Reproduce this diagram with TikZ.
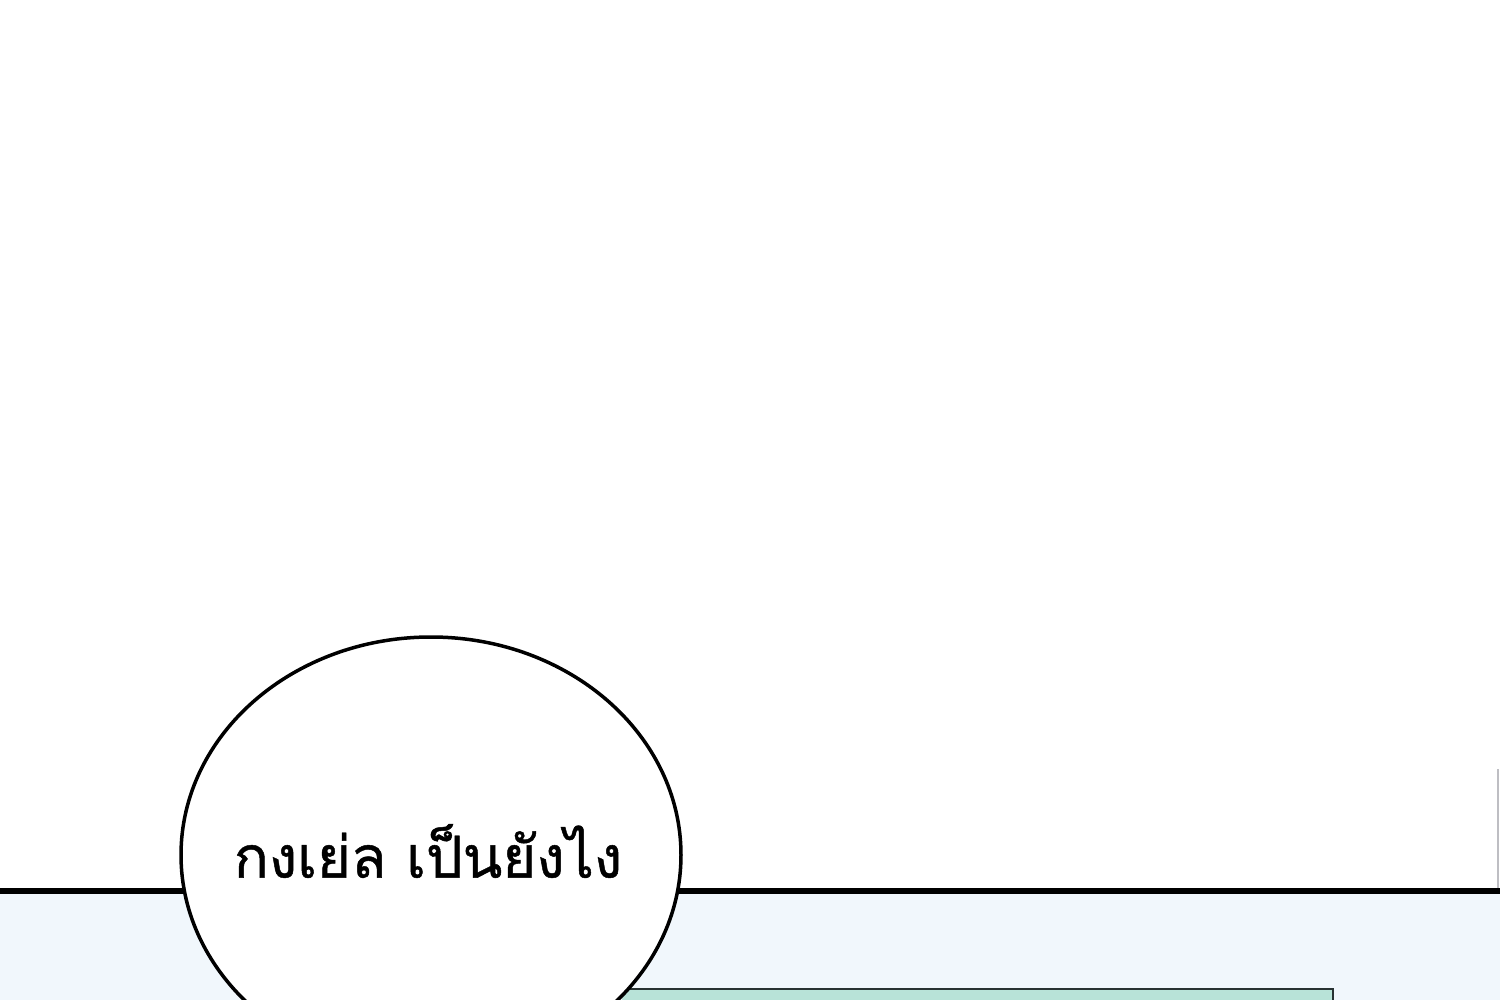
\documentclass[tikz,border=0pt]{standalone}
\usepackage{fontspec}
\usetikzlibrary{shapes.geometric}
\newfontfamily\thaifont[Script=Thai,FakeBold=0.8]{Loma}
\begin{document}
\begin{tikzpicture}[x=1pt,y=-1pt,
  bubble/.style={ellipse,draw=black,line width=3.5pt,fill=white,
    minimum width=500pt,minimum height=436pt,inner sep=0pt}]
\useasboundingbox (0,0) rectangle (1500,1000);
\fill[white] (0,0) rectangle (1500,1000);
\fill[fill={rgb,255:red,241;green,247;blue,252}] (0,891) rectangle (1500,1000);
\draw[line width=2pt,draw={rgb,255:red,190;green,190;blue,195}] (1498,769) -- (1498,888);
\fill[fill={rgb,255:red,184;green,227;blue,216}] (622,989) rectangle (1333,1000);
\draw[line width=1.5pt,draw={rgb,255:red,40;green,50;blue,50}] (622,989) -- (1333,989) -- (1333,1000);
\draw[line width=6pt] (0,891) -- (1500,891);
\node[bubble] (b) at (431,855) {};
\node (t) at (428,851) {\thaifont\fontsize{58}{60}\selectfont กงเย่ล เป็นยังไง};
\end{tikzpicture}
\end{document}
